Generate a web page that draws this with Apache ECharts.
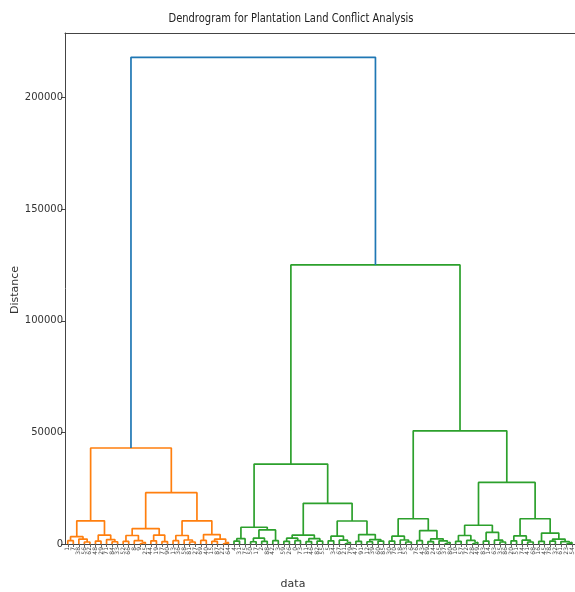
<!DOCTYPE html>
<html><head><meta charset="utf-8">
<script src="https://cdn.jsdelivr.net/npm/echarts@6/dist/echarts.min.js"></script>
<style>html,body{margin:0;padding:0;background:#fff}#c{width:575px;height:592px}</style>
</head><body><div id="c"></div>
<script>
// Leaf labels, left to right
const leafLabels = ["1","7","38","56","62","48","29","71","84","33","52","66","8","9","25","44","19","77","90","13","36","58","81","27","69","40","15","87","22","64",
"4","31","75","50","17","2","88","42","3","59","26","0","73","11","46","82","55","5","34","67","21","79","47","91","12","39","60","85","30","70",
"18","53","6","76","43","89","24","65","37","80","10","57","72","28","49","83","14","63","35","86","20","51","74","41","68","16","45","78","32","61","23","54"];

// Tree nodes: [left, right, distance]; integers = leaf position index
const orangeA = [[0,1,1500],[2,[3,4,900],2200],3300];
const orangeB = [[5,6,1300],[7,[8,9,1000],2000],4000];
const orangeC = [[[10,11,1200],[12,[13,14,800],1500],3800],[[15,16,1400],[17,18,1100],4000],6900];
const orangeD = [[[19,20,1500],[21,[22,23,900],1800],3800],[[24,25,1600],[[26,27,1200],[28,29,700],2200],4200],10400];
const orangeCluster = [[orangeA,orangeB,10400],[orangeC,orangeD,23000],43000];

const greenG1a = [[[30,31,1300],32,2400],[[[33,34,1000],[35,36,1200],2600],[37,38,1500],6300],7500];
const greenG1bL = [[[39,40,1200],[41,42,1500],2600],[[43,44,1100],[45,46,1300],2400],4000];
const greenG1bR = [[[47,48,1400],[49,[50,51,800],1700],3500],[[52,53,1200],[[54,55,1000],[56,57,1300],2000],4200],10300];
const greenG2a = [[[58,59,1300],[60,[61,62,900],1800],3500],[[63,64,1500],[[65,66,1100],[67,[68,69,800],1400],2300],6000],11300];
const greenG2bL = [[[70,71,1200],[72,[73,74,800],1600],3800],[[75,76,1300],[77,[78,79,900],1700],5200],8400];
const greenG2bR = [[[80,81,1400],[82,[83,84,900],1700],3600],[[85,86,1200],[[87,88,1300],[89,[90,91,700],1100],2200],4900],11300];
const greenCluster = [[greenG1a,[greenG1bL,greenG1bR,18200],35800],[greenG2a,[greenG2bL,greenG2bR,27600],50700],125000];

const rootDistance = 218000;
const yTickValues = [0,50000,100000,150000,200000];

const colAbove = '#1f77b4', colOrange = '#ff7f0e', colGreen = '#2ca02c';

const links = [];
function layout(node, color) {
  if (typeof node === 'number') return {x: 5 + 10*node, h: 0};
  const a = layout(node[0], color), b = layout(node[1], color);
  links.push({color, pts: [[a.x,a.h],[a.x,node[2]],[b.x,node[2]],[b.x,b.h]]});
  return {x:(a.x+b.x)/2, h: node[2]};
}
const o = layout(orangeCluster, colOrange);
const g = layout(greenCluster, colGreen);
links.push({color: colAbove, pts: [[o.x,o.h],[o.x,rootDistance],[g.x,rootDistance],[g.x,g.h]]});

const nLeaves = leafLabels.length;
const yMax = rootDistance * 1.05;

const series = links.map(l => ({
  type:'line', xAxisIndex:0, yAxisIndex:0, data:l.pts, symbol:'none', silent:true, animation:false,
  lineStyle:{color:l.color, width:1.7}
}));

const ctx = document.createElement('canvas').getContext('2d');
function scaleFor(text, font, target){ ctx.font = font; return target/ctx.measureText(text).width; }
const titleText = 'Dendrogram for Plantation Land Conflict Analysis';
const titleFont = '13px "DejaVu Sans"';

const chart = echarts.init(document.getElementById('c'), null, {renderer:'canvas'});
chart.setOption({
  animation:false,
  grid:{left:65, right:0, top:33, bottom:48, show:false},
  xAxis:[
    {type:'value', min:0, max:10*nLeaves, position:'top',
     axisLine:{show:true, onZero:false, lineStyle:{color:'#444'}}, axisTick:{show:false}, axisLabel:{show:false}, splitLine:{show:false}},
    {type:'category', data:leafLabels, position:'bottom', boundaryGap:true,
     axisLine:{show:true, onZero:false, lineStyle:{color:'#444'}}, splitLine:{show:false},
     axisTick:{show:true, alignWithLabel:true, length:3, interval:0, lineStyle:{color:'#666'}},
     axisLabel:{rotate:90, interval:0, fontSize:6, color:'#444', margin:3, fontFamily:'DejaVu Sans'}}
  ],
  yAxis:{type:'value', min:0, max:yMax,
    axisLine:{show:true, onZero:false, lineStyle:{color:'#444'}},
    splitLine:{show:false},
    axisTick:{show:true, length:4, customValues:yTickValues, lineStyle:{color:'#444'}},
    axisLabel:{customValues:yTickValues, formatter:v => String(v), fontSize:10, color:'#333', margin:2, fontFamily:'DejaVu Sans'}},
  graphic:[
    {type:'text', x:291, y:19, scaleX:scaleFor(titleText,titleFont,245), z:100,
     style:{text:titleText, font:titleFont, fill:'#222', textAlign:'center', textVerticalAlign:'middle'}},
    {type:'text', x:15, y:290, rotation:Math.PI/2, z:100,
     style:{text:'Distance', font:'11px "DejaVu Sans"', fill:'#333', textAlign:'center', textVerticalAlign:'middle'}},
    {type:'text', x:293, y:584, z:100,
     style:{text:'data', font:'11px "DejaVu Sans"', fill:'#333', textAlign:'center', textVerticalAlign:'middle'}}
  ],
  series
});
</script></body></html>
